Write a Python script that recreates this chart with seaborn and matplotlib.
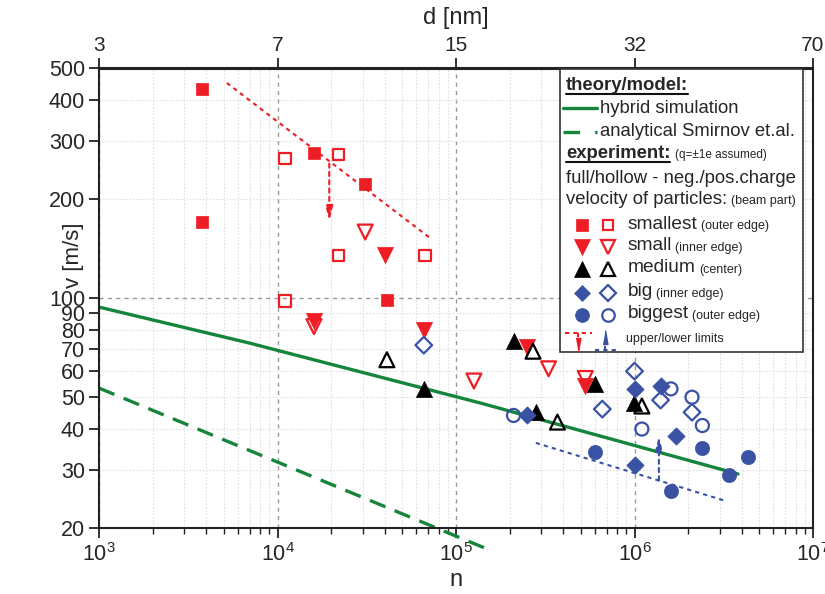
import numpy as np
import pandas as pd
import matplotlib
matplotlib.use("Agg")
import matplotlib.pyplot as plt
import seaborn as sns
from matplotlib.lines import Line2D
from matplotlib.patches import Rectangle
from matplotlib.ticker import FixedLocator, NullLocator, FuncFormatter, LogLocator

# ---------------- data ----------------
smallest_neg_n = [3.8e3, 3.8e3, 1.6e4, 3.1e4, 4.1e4]
smallest_neg_v = [432, 171, 277, 223, 99]
smallest_pos_n = [1.1e4, 2.2e4, 2.2e4, 1.1e4, 6.7e4]
smallest_pos_v = [266, 274, 135, 98, 135]
small_neg_n = [1.6e4, 4.0e4, 6.6e4, 2.5e5, 5.3e5]
small_neg_v = [85, 135, 80, 71, 54]
small_pos_n = [1.6e4, 3.1e4, 1.26e5, 3.3e5, 5.3e5]
small_pos_v = [82, 159, 56, 61, 57]
medium_neg_n = [6.6e4, 2.1e5, 2.8e5, 6.0e5, 9.9e5]
medium_neg_v = [53, 74, 45, 55, 48]
medium_pos_n = [4.1e4, 2.7e5, 3.7e5, 1.1e6]
medium_pos_v = [65, 69, 42, 47]
big_neg_n = [2.5e5, 1.0e6, 1.4e6, 1.7e6, 1.0e6]
big_neg_v = [44, 53, 54, 38, 31]
big_pos_n = [6.6e4, 6.6e5, 1.0e6, 1.4e6, 2.1e6]
big_pos_v = [72, 46, 60, 49, 45]
biggest_neg_n = [6.0e5, 1.6e6, 2.4e6, 3.4e6, 4.3e6]
biggest_neg_v = [34, 26, 35, 29, 33]
biggest_pos_n = [2.1e5, 1.1e6, 1.6e6, 2.1e6, 2.4e6]
biggest_pos_v = [44, 40, 53, 50, 41]

hybrid_n = [1e3, 7e3, 1.37e5, 3.8e6]
hybrid_v = [94, 73, 48, 29.2]
smirnov_n = [1e3, 1.6e5]
smirnov_v = [53.3, 17.0]

upper_limit_n = [5.2e3, 7.1e4]
upper_limit_v = [452, 153]
upper_arrow_n = 1.95e4
upper_arrow_v = [257, 172]
lower_limit_n = [2.8e5, 3.3e6]
lower_limit_v = [36.3, 24.1]
lower_arrow_n = 1.37e6
lower_arrow_v = [27.9, 38.1]

x_decades = [1e3, 1e4, 1e5, 1e6, 1e7]
d_labels = ["3", "7", "15", "32", "70"]
y_major = [20, 100, 500]
y_minor = [30, 40, 50, 60, 70, 80, 90, 200, 300, 400]

RED = "#EE1D24"
BLUE = "#3A52A3"
GREEN = "#14853B"
BLACK = "#000000"

# ---------------- style ----------------
sns.set_theme(style="white")
plt.rcParams["font.family"] = ["Liberation Sans", "DejaVu Sans"]
plt.rcParams["mathtext.fontset"] = "custom"
plt.rcParams["mathtext.rm"] = "Liberation Sans"
plt.rcParams["mathtext.it"] = "Liberation Sans:italic"
plt.rcParams["mathtext.bf"] = "Liberation Sans:bold"

W, H = 825, 594
fig = plt.figure(figsize=(W / 100, H / 100), dpi=100)
ax = fig.add_axes([99 / W, 1 - 528 / H, 714 / W, 459.5 / H])
ax.set_xscale("log")
ax.set_yscale("log")

# ---------------- lines ----------------
sns.lineplot(x=hybrid_n, y=hybrid_v, color=GREEN, lw=2.4, ax=ax, zorder=2)
sns.lineplot(x=smirnov_n, y=smirnov_v, color=GREEN, lw=2.4, ax=ax, zorder=2,
             linestyle=(0, (5, 3)), clip_on=False)
sns.lineplot(x=upper_limit_n, y=upper_limit_v, color=RED, lw=1.5, ax=ax,
             linestyle=(0, (2, 2)), zorder=2)
sns.lineplot(x=lower_limit_n, y=lower_limit_v, color=BLUE, lw=1.5, ax=ax,
             linestyle=(0, (2, 2)), zorder=2)
ax.annotate("", xy=(upper_arrow_n, upper_arrow_v[1]), xytext=(upper_arrow_n, upper_arrow_v[0]),
            arrowprops=dict(arrowstyle="-|>,head_length=0.7,head_width=0.18", color=RED,
                            lw=1.5, linestyle=(0, (2, 2)), shrinkA=0, shrinkB=0))
ax.annotate("", xy=(lower_arrow_n, lower_arrow_v[1]), xytext=(lower_arrow_n, lower_arrow_v[0]),
            arrowprops=dict(arrowstyle="-|>,head_length=0.7,head_width=0.18", color=BLUE,
                            lw=1.5, linestyle=(0, (2, 2)), shrinkA=0, shrinkB=0))

# ---------------- markers ----------------
series = [
    (smallest_neg_n, smallest_neg_v, "s", RED, True, 78),
    (smallest_pos_n, smallest_pos_v, "s", RED, False, 68),
    (small_neg_n, small_neg_v, "v", RED, True, 135),
    (small_pos_n, small_pos_v, "v", RED, False, 115),
    (medium_neg_n, medium_neg_v, "^", BLACK, True, 135),
    (medium_pos_n, medium_pos_v, "^", BLACK, False, 115),
    (big_neg_n, big_neg_v, "D", BLUE, True, 78),
    (big_pos_n, big_pos_v, "D", BLUE, False, 72),
    (biggest_neg_n, biggest_neg_v, "o", BLUE, True, 105),
    (biggest_pos_n, biggest_pos_v, "o", BLUE, False, 88),
]
for xs, ys, m, c, filled, s in series:
    if filled:
        sns.scatterplot(x=xs, y=ys, marker=m, s=s, color=c, edgecolor=c,
                        linewidth=0.5, ax=ax, zorder=4)
    else:
        sns.scatterplot(x=xs, y=ys, marker=m, s=s, color=c, facecolor="none",
                        edgecolor=c, linewidth=1.6, ax=ax, zorder=4)

# ---------------- axes ----------------
ax.set_xlim(1e3, 1e7)
ax.set_ylim(20, 500)
ax.xaxis.set_major_locator(FixedLocator(x_decades))
ax.xaxis.set_minor_locator(LogLocator(base=10, subs=np.arange(2, 10)))
ax.yaxis.set_major_locator(FixedLocator(y_major))
ax.yaxis.set_minor_locator(FixedLocator(y_minor))
fmt = FuncFormatter(lambda v, p: f"{v:g}")
ax.yaxis.set_major_formatter(fmt)
ax.yaxis.set_minor_formatter(fmt)

ax.grid(which="major", color="#9a9a9a", lw=1.0, ls=(0, (3, 3)))
ax.grid(which="minor", color="#e0e0e0", lw=0.8, ls=(0, (1.5, 1.5)))
for sp in ax.spines.values():
    sp.set_color("#222222")
    sp.set_linewidth(1.5)
    sp.set_visible(True)

ax.tick_params(axis="x", which="major", direction="out", length=7, width=1.3,
               labelsize=15.5, bottom=True, color="#222222", pad=4)
ax.tick_params(axis="x", which="minor", direction="out", length=4, width=1.0,
               bottom=True, color="#222222")
ax.tick_params(axis="y", which="both", direction="out", length=7, width=1.3,
               labelsize=15.5, left=True, color="#222222", pad=3)
ax.set_xlabel("n", fontsize=17, labelpad=2)
ax.set_ylabel("v [m/s]", fontsize=16)
ax.yaxis.set_label_coords(-0.021, 0.593)

sec = ax.secondary_xaxis("top")
sec.set_xticks(x_decades, labels=d_labels)
sec.xaxis.set_minor_locator(NullLocator())
sec.tick_params(axis="x", which="major", direction="out", length=7, width=1.3,
                labelsize=15, color="#222222", pad=3)
sec.spines["top"].set_linewidth(1.5)
sec.set_xlabel("d [nm]", fontsize=17, labelpad=8)

# ---------------- legend (custom box) ----------------
def F(x, y):
    return (x / W, 1 - y / H)

tr = fig.transFigure
fig.add_artist(Rectangle(F(560, 352), (803 - 560) / W, (352 - 68.5) / H, transform=tr,
                         facecolor="white", edgecolor="#333333", lw=1.2, zorder=5))
FS = 13.3
SFS = 9
txt_kw = dict(transform=tr, va="center", ha="left", zorder=6)

t1 = fig.text(*F(566, 86), "theory/model:", fontsize=FS, fontweight="bold", **txt_kw)
fig.add_artist(Line2D([563 / W, 597 / W], [1 - 108 / H] * 2, transform=tr, color=GREEN, lw=2.4, zorder=6))
fig.text(*F(600, 108), "hybrid simulation", fontsize=FS, **txt_kw)
fig.add_artist(Line2D([563 / W, 597 / W], [1 - 131.5 / H] * 2, transform=tr, color=GREEN, lw=2.4,
                      ls=(0, (5, 4.5)), zorder=6))
fig.text(*F(600, 131.5), "analytical Smirnov et.al.", fontsize=FS, **txt_kw)
t2 = fig.text(*F(566, 154), "experiment:", fontsize=FS, fontweight="bold", **txt_kw)
fig.text(*F(566, 178), "full/hollow - neg./pos.charge", fontsize=FS, **txt_kw)
t3 = fig.text(*F(566, 200), "velocity of particles:", fontsize=FS, **txt_kw)

rows = [
    ("s", RED, 225, "smallest", "(outer edge)", 8.5, 7.5),
    ("v", RED, 247, "small", "(inner edge)", 11, 10),
    ("^", BLACK, 268.5, "medium", "(center)", 11, 10),
    ("D", BLUE, 293, "big", "(inner edge)", 8.5, 8),
    ("o", BLUE, 315, "biggest", "(outer edge)", 10, 9),
]
main_texts = []
for m, c, y, lab, small, ms1, ms2 in rows:
    fig.add_artist(Line2D([582 / W], [1 - y / H], transform=tr, marker=m, ms=ms1, mfc=c, mec=c,
                          mew=0.5, ls="none", zorder=6))
    fig.add_artist(Line2D([608 / W], [1 - y / H], transform=tr, marker=m, ms=ms2, mfc="none",
                          mec=c, mew=1.6, ls="none", zorder=6))
    t = fig.text(*F(628, y - 1), lab, fontsize=FS + 0.5, **txt_kw)
    main_texts.append((t, small, y))

# upper/lower limit symbols
fig.add_artist(Line2D([565 / W, 592 / W], [1 - 333 / H] * 2, transform=tr, color=RED, lw=1.5,
                      ls=(0, (2, 2)), zorder=6))
fig.add_artist(Line2D([578 / W, 578 / W], [1 - 333 / H, 1 - 343 / H], transform=tr, color=RED,
                      lw=1.5, ls=(0, (2, 2)), zorder=6))
fig.add_artist(Line2D([578 / W], [1 - 345 / H], transform=tr, marker=[(-0.35, 1), (0.35, 1), (0, -1)],
                      ms=10, color=RED, ls="none", zorder=6))
fig.add_artist(Line2D([595 / W, 619 / W], [1 - 350 / H] * 2, transform=tr, color=BLUE, lw=1.5,
                      ls=(0, (2, 2)), zorder=6))
fig.add_artist(Line2D([605 / W, 605 / W], [1 - 350 / H, 1 - 340 / H], transform=tr, color=BLUE,
                      lw=1.5, ls=(0, (2, 2)), zorder=6))
fig.add_artist(Line2D([605 / W], [1 - 337 / H], transform=tr, marker=[(-0.35, -1), (0.35, -1), (0, 1)],
                      ms=10, color=BLUE, ls="none", zorder=6))
fig.text(*F(626, 339), "upper/lower limits", fontsize=SFS, **txt_kw)

# place small annotations after measured text
fig.canvas.draw()
r = fig.canvas.get_renderer()
inv = tr.inverted()
for t, small, y in main_texts:
    bb = t.get_window_extent(r)
    x1 = inv.transform((bb.x1, bb.y0))[0]
    fig.text(x1 + 3 / W, 1 - (y + 1) / H, small, fontsize=SFS, **txt_kw)
bb = t3.get_window_extent(r)
fig.text(inv.transform((bb.x1, 0))[0] + 4 / W, 1 - 201 / H, "(beam part)", fontsize=SFS, **txt_kw)
bb = t2.get_window_extent(r)
fig.text(inv.transform((bb.x1, 0))[0] + 5 / W, 1 - 155 / H, "(q=±1e assumed)", fontsize=SFS - 0.5, **txt_kw)
for t, yy in [(t1, 94), (t2, 162)]:
    bb = t.get_window_extent(r)
    xa = inv.transform((bb.x0, 0))[0]
    xb = inv.transform((bb.x1, 0))[0]
    fig.add_artist(Line2D([xa, xb], [1 - yy / H] * 2, transform=tr, color="#111111", lw=1.5, zorder=6))

fig.savefig("out.png", dpi=100)
